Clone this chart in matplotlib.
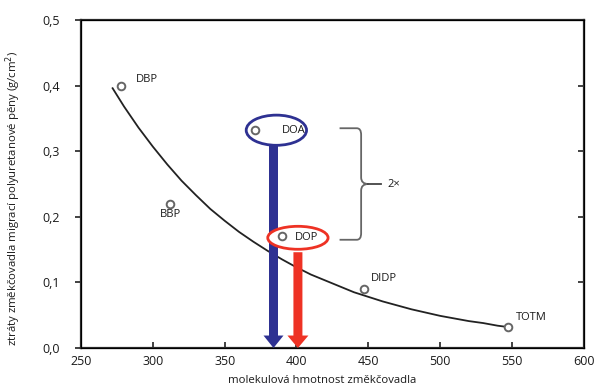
import numpy as np
import matplotlib.pyplot as plt
from matplotlib.patches import Ellipse, FancyArrow, PathPatch
from matplotlib.path import Path
from matplotlib.ticker import FuncFormatter

# zmekcovadla - molekulova hmotnost / ztraty migraci
names = ['DBP', 'BBP', 'DOA', 'DOP', 'DIDP', 'TOTM']
mol_hm = [278, 312, 371, 390, 447, 547]
ztraty = [0.40, 0.22, 0.332, 0.171, 0.09, 0.032]

# prubeh krivky
krivka_x = [272, 280, 290, 300, 310, 320, 330, 340, 350, 360, 370, 380, 390, 400,
            410, 420, 430, 440, 450, 460, 470, 480, 490, 500, 510, 520, 530, 540, 547]
krivka_y = [0.396, 0.368, 0.336, 0.307, 0.280, 0.255, 0.233, 0.212, 0.194, 0.177,
            0.162, 0.148, 0.135, 0.123, 0.112, 0.103, 0.094, 0.085, 0.078, 0.071,
            0.065, 0.059, 0.054, 0.049, 0.045, 0.041, 0.038, 0.034, 0.032]

# sipky (x, horni y)
sipka_doa = (384, 0.31)
sipka_dop = (401, 0.146)

plt.rcParams['font.family'] = ['Open Sans', 'DejaVu Sans']
txt = '#1a1a1a'

fig = plt.figure(figsize=(6, 3.9), dpi=100)
ax = fig.add_axes([0.135, 0.1077, 0.838, 0.841])

ax.plot(krivka_x, krivka_y, color='#222222', lw=1.3, zorder=2, solid_joinstyle='round')

# sipky
sx = 1.437  # px na jednotku x
ax.add_patch(FancyArrow(sipka_doa[0], sipka_doa[1], 0, -sipka_doa[1], width=9 / sx,
                        head_width=20 / sx, head_length=0.019,
                        length_includes_head=True, color='#2e3192', lw=0, zorder=3))
ax.add_patch(FancyArrow(sipka_dop[0], sipka_dop[1], 0, -sipka_dop[1], width=9 / sx,
                        head_width=21 / sx, head_length=0.019,
                        length_includes_head=True, color='#ee3224', lw=0, zorder=3))

# elipsy
ax.add_patch(Ellipse((386, 0.332), 42, 0.046, fill=True, fc='white',
                     ec='#2e3192', lw=2, zorder=4))
ax.add_patch(Ellipse((401, 0.168), 42, 0.035, fill=True, fc='white',
                     ec='#ee3224', lw=2, zorder=4))

ax.plot(mol_hm, ztraty, 'o', ms=5.5, mfc='white', mec='#666666', mew=1.4, zorder=5)

# popisky
popisky = {
    'DBP': (288, 0.41, 'left'),
    'BBP': (312, 0.203, 'center'),
    'DOA': (390, 0.332, 'left'),
    'DOP': (399, 0.168, 'left'),
    'DIDP': (452, 0.106, 'left'),
    'TOTM': (553, 0.046, 'left'),
}
for n in names:
    px, py, ha = popisky[n]
    ax.text(px, py, n, fontsize=8, ha=ha, va='center', color=txt, zorder=6)

# slozena zavorka
verts = [(430, 0.335), (442, 0.335), (445, 0.335), (445, 0.325),
         (445, 0.26), (445, 0.25), (450, 0.25),
         (445, 0.25), (445, 0.24),
         (445, 0.175), (445, 0.165), (442, 0.165), (430, 0.165)]
codes = [Path.MOVETO, Path.LINETO, Path.CURVE3, Path.CURVE3,
         Path.LINETO, Path.CURVE3, Path.CURVE3,
         Path.CURVE3, Path.CURVE3,
         Path.LINETO, Path.CURVE3, Path.CURVE3, Path.LINETO]
ax.add_patch(PathPatch(Path(verts, codes), fill=False, ec='#666666', lw=1.3))
ax.plot([450, 459], [0.25, 0.25], color='#444444', lw=1.3)
ax.text(463, 0.25, '2×', fontsize=8, va='center', color=txt)

ax.set_xlim(250, 600)
ax.set_ylim(0, 0.5)
ax.set_xticks(np.arange(250, 601, 50))
ax.set_yticks(np.arange(0, 0.51, 0.1))
ax.yaxis.set_major_formatter(FuncFormatter(lambda v, p: f'{v:.1f}'.replace('.', ',')))

for s in ax.spines.values():
    s.set_color('#2a2a2a')
    s.set_linewidth(1.6)

ax.tick_params(axis='x', direction='in', length=4, width=1.3, color='#333333',
               labelsize=9, pad=5, labelcolor=txt)
ax.tick_params(axis='y', direction='out', length=4, width=1.3, color='#333333',
               labelsize=9, pad=11, labelcolor=txt)

ax2 = ax.twinx()
ax2.set_ylim(0, 0.5)
ax2.set_yticks([0.1, 0.2, 0.3, 0.4])
ax2.tick_params(axis='y', direction='in', length=4, width=1.3, color='#333333',
                labelright=False)

ax.set_xlabel('molekulová hmotnost změkčovadla', fontsize=8.2, color=txt)
ax.set_ylabel('ztráty změkčovadla migrací polyuretanové pěny (g/cm$^2$)', fontsize=8.2,
              color=txt)
ax.xaxis.set_label_coords(0.479, -0.082)
ax.yaxis.set_label_coords(-0.115, 0.455)

fig.savefig('out.png', dpi=100)
